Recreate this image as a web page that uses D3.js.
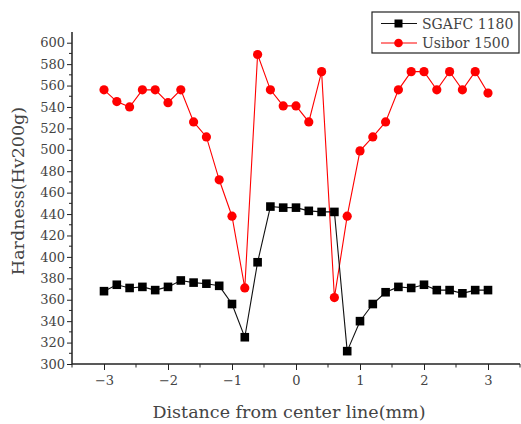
<!DOCTYPE html>
<html><head><meta charset="utf-8">
<script src="https://cdn.jsdelivr.net/npm/d3@7"></script>
<style>body{margin:0;background:#fff}</style>
</head><body>
<svg id="chart" width="521" height="424"></svg>
<script>
const xValues = [-3.0,-2.8,-2.6,-2.4,-2.2,-2.0,-1.8,-1.6,-1.4,-1.2,-1.0,-0.8,-0.6,-0.4,-0.2,0.0,0.2,0.4,0.6,0.8,1.0,1.2,1.4,1.6,1.8,2.0,2.2,2.4,2.6,2.8,3.0];
const sgafc = [368,374,371,372,369,372,378,376,375,373,356,325,395,447,446,446,443,442,442,312,340,356,367,372,371,374,369,369,366,369,369];
const usibor = [556,545,540,556,556,544,556,526,512,472,438,371,589,556,541,541,526,573,362,438,499,512,526,556,573,573,556,573,556,573,553];
const seriesNames = ["SGAFC 1180","Usibor 1500"];
const xTicks = [-3,-2,-1,0,1,2,3];
const yTicks = [300,320,340,360,380,400,420,440,460,480,500,520,540,560,580,600];
const xLabel = "Distance from center line(mm)";
const yLabel = "Hardness(Hv200g)";

const svg = d3.select("#chart");
const font = "'DejaVu Serif', serif";
const x = d3.scaleLinear().domain([-3.5,3.5]).range([72,520]);
const y = d3.scaleLinear().domain([300,610]).range([364,32]);

const xMinor = d3.range(-3.5,3.51,0.5).filter(v=>!Number.isInteger(v));
const yMinor = d3.range(310,610,20);

const gx = svg.append("g").attr("transform","translate(0,364)");
gx.call(d3.axisBottom(x).tickValues(xTicks).tickSize(6).tickPadding(6)
  .tickFormat(d=>d<0?"\u2212"+Math.abs(d):d));
gx.append("g").selectAll("line").data(xMinor).join("line")
  .attr("x1",d=>x(d)).attr("x2",d=>x(d)).attr("y1",0).attr("y2",3.5).attr("stroke","#222");

const gy = svg.append("g").attr("transform","translate(72,0)");
gy.call(d3.axisLeft(y).tickValues(yTicks).tickSize(5).tickPadding(2));
gy.append("g").selectAll("line").data(yMinor).join("line")
  .attr("y1",d=>y(d)).attr("y2",d=>y(d)).attr("x1",0).attr("x2",-3).attr("stroke","#222");

[gx,gy].forEach(g=>{
  g.select(".domain").attr("stroke","#222").attr("stroke-width",1.5);
  g.selectAll(".tick line").attr("stroke","#222");
  g.selectAll("text").attr("font-family",font).attr("font-size",13).attr("fill","#444");
});
gy.select(".domain").attr("d","M0,364V32");
gx.select(".domain").attr("d","M0,0H448").attr("transform","translate(72,0)");

svg.append("text").attr("x",289).attr("y",418).attr("text-anchor","middle")
  .attr("font-family",font).attr("font-size",17.5).attr("fill","#444").text(xLabel);
svg.append("text").attr("transform","translate(24,191) rotate(-90)").attr("text-anchor","middle")
  .attr("font-family",font).attr("font-size",17.5).attr("fill","#444").text(yLabel);

const pts = v => xValues.map((d,i)=>[d,v[i]]);
const line = d3.line().x(d=>x(d[0])).y(d=>y(d[1]));

svg.append("path").datum(pts(usibor)).attr("d",line).attr("fill","none").attr("stroke","#ff0000").attr("stroke-width",1.1);
svg.append("path").datum(pts(sgafc)).attr("d",line).attr("fill","none").attr("stroke","#111").attr("stroke-width",1.1);
svg.append("g").selectAll("circle").data(pts(usibor)).join("circle")
  .attr("cx",d=>x(d[0])).attr("cy",d=>y(d[1])).attr("r",4.6).attr("fill","#ff0000");
svg.append("g").selectAll("rect").data(pts(sgafc)).join("rect")
  .attr("x",d=>x(d[0])-4.3).attr("y",d=>y(d[1])-4.3).attr("width",8.6).attr("height",8.6).attr("fill","#000");

const lg = svg.append("g");
lg.append("rect").attr("x",372).attr("y",12).attr("width",147).attr("height",41)
  .attr("fill","#fff").attr("stroke","#222").attr("stroke-width",1.2);
const colors = ["#111","#ff0000"];
seriesNames.forEach((n,i)=>{
  const yy = 23.5 + i*19.5;
  lg.append("line").attr("x1",381).attr("x2",417).attr("y1",yy).attr("y2",yy).attr("stroke",colors[i]).attr("stroke-width",1.1);
  if(i===0) lg.append("rect").attr("x",394.5).attr("y",yy-4).attr("width",8).attr("height",8).attr("fill","#000");
  else lg.append("circle").attr("cx",398.5).attr("cy",yy).attr("r",4.3).attr("fill","#ff0000");
  lg.append("text").attr("x",422).attr("y",yy+5).attr("font-family",font).attr("font-size",14).attr("fill","#444").text(n);
});
</script>
</body></html>
